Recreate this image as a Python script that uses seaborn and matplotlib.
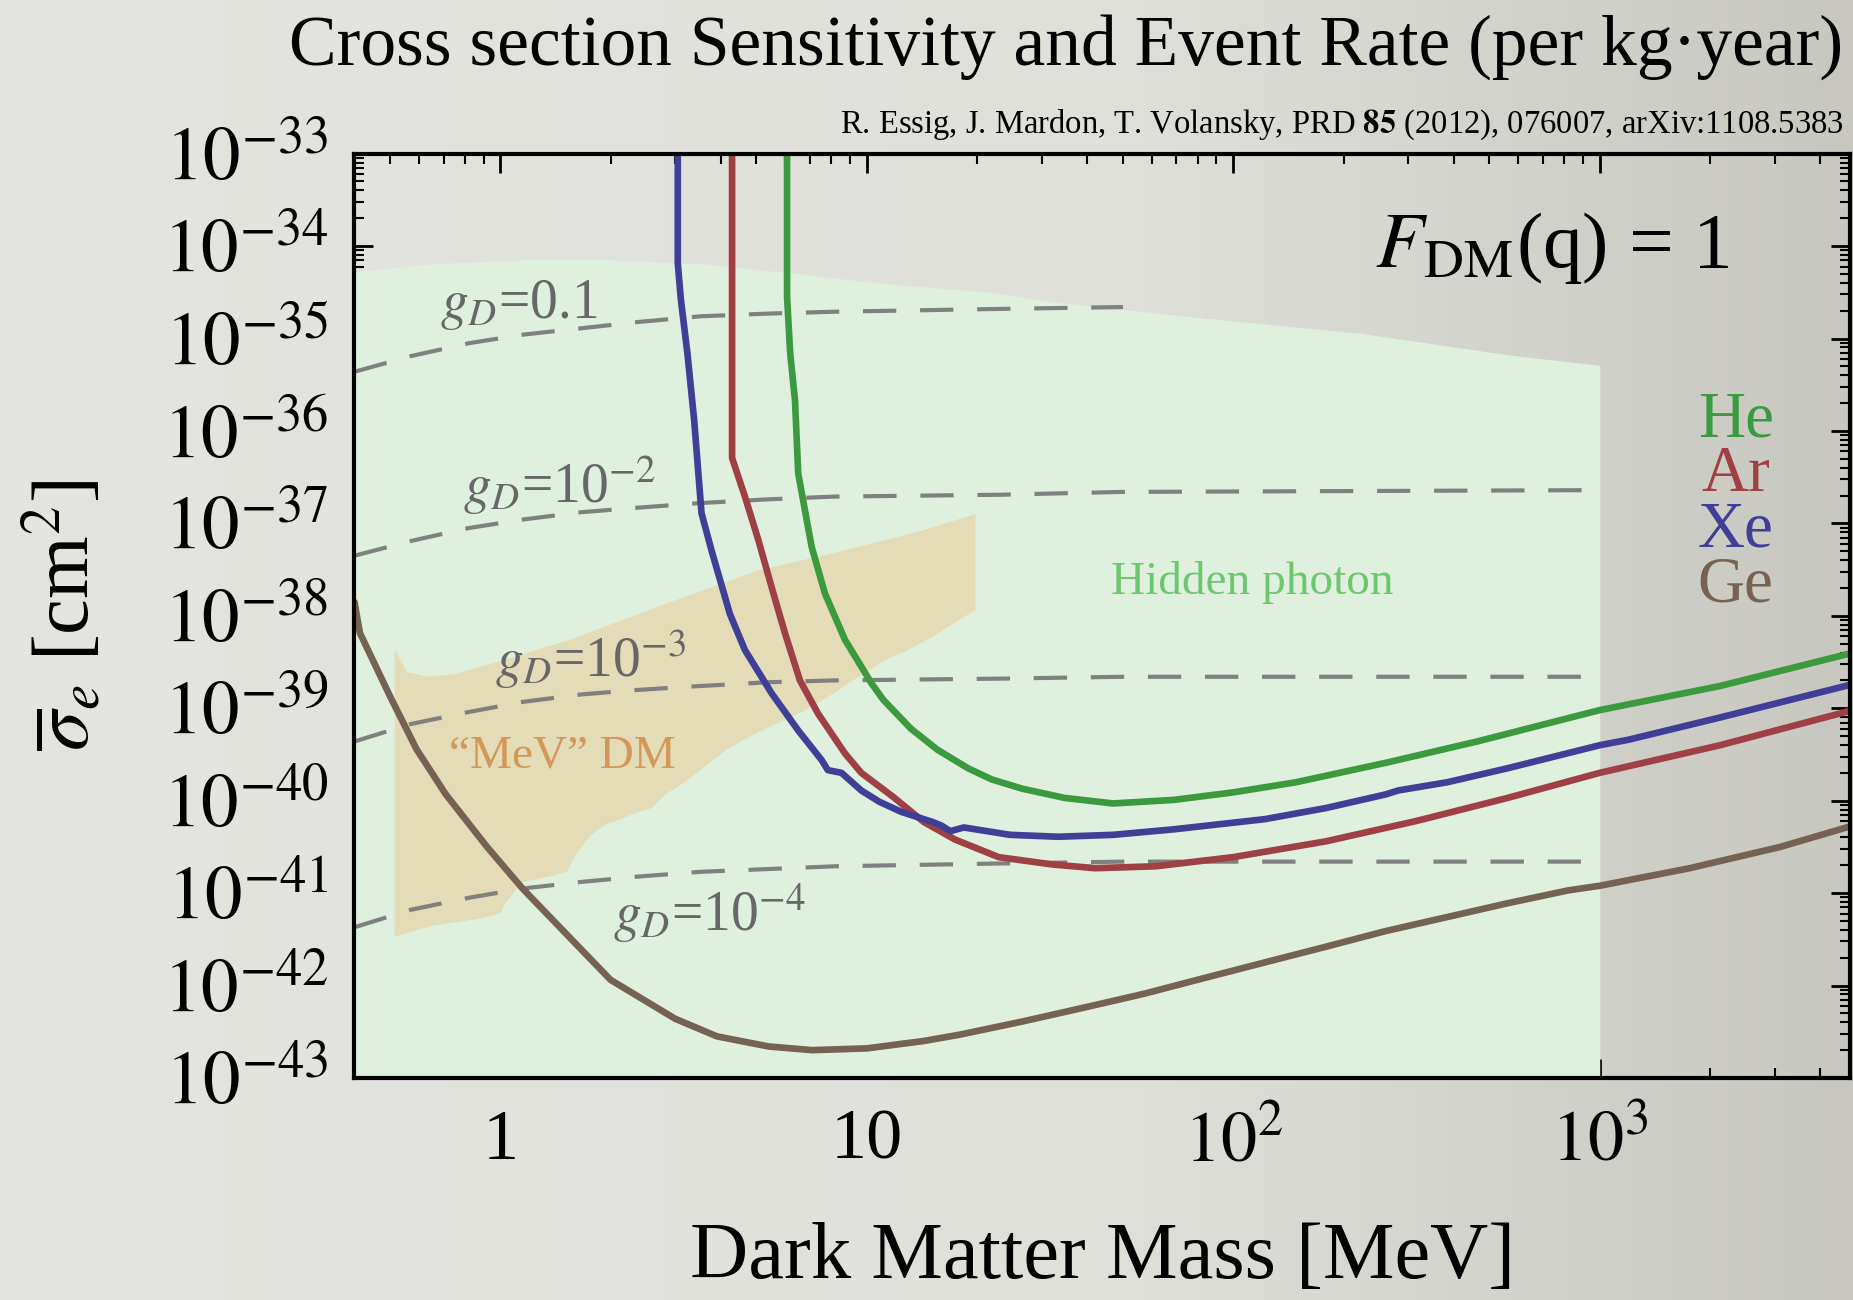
import numpy as np
import matplotlib
matplotlib.use('Agg')
import matplotlib.pyplot as plt
from matplotlib.colors import LinearSegmentedColormap
from matplotlib.ticker import FixedLocator, LogLocator, NullFormatter
import seaborn as sns

# Values (mass in MeV, cross section in cm^2)

# Ge curve
ge_mass = [0.40, 0.414, 0.50, 0.59, 0.71, 0.92, 1.15, 1.52, 2.0, 3.0, 3.9, 5.4, 7.1, 10,
           14.3, 18, 26.5, 39, 57, 83, 122, 179, 261, 383, 560, 820, 1000, 1760, 3110, 4900]
ge_sigma = [1.41e-38, 6.5e-39, 1.35e-39, 3.63e-40, 1.17e-40, 3.16e-41, 1.12e-41, 3.55e-42,
            1.15e-42, 4.37e-43, 2.82e-43, 2.19e-43, 2.0e-43, 2.09e-43, 2.51e-43, 2.95e-43,
            4.07e-43, 5.75e-43, 8.13e-43, 1.20e-42, 1.78e-42, 2.63e-42, 3.89e-42, 5.50e-42,
            7.76e-42, 1.07e-41, 1.20e-41, 1.86e-41, 3.16e-41, 5.37e-41]

# Xe curve
xe_mass = [3.05, 3.05, 3.11, 3.24, 3.38, 3.54, 3.77, 4.23, 4.65, 5.50, 6.50, 7.53, 7.83, 8.53,
           9.66, 10.8, 12.4, 15.1, 16.0, 16.9, 18.4, 24.6, 33.3, 47.0, 68.9, 122, 179, 261,
           282, 383, 560, 1000, 1200, 2130, 4900]
xe_sigma = [1e-33, 6.5e-35, 2.63e-35, 6.92e-36, 1.32e-36, 1.29e-37, 5.1e-38, 1.05e-38,
            4.27e-39, 1.45e-39, 5.75e-40, 2.75e-40, 2.14e-40, 2.0e-40, 1.29e-40, 9.77e-41,
            7.59e-41, 5.89e-41, 5.37e-41, 4.68e-41, 5.13e-41, 4.27e-41, 4.07e-41, 4.27e-41,
            4.90e-41, 6.31e-41, 8.32e-41, 1.17e-40, 1.29e-40, 1.58e-40, 2.24e-40, 3.98e-40,
            4.57e-40, 7.94e-40, 1.82e-39]

# Ar curve
ar_mass = [4.29, 4.29, 4.65, 5.06, 5.50, 5.98, 6.57, 7.37, 8.72, 9.66, 11.8, 14.3, 17.4,
           22.9, 32.1, 42.0, 61.4, 100, 179, 316, 560, 1000, 2130, 4900]
ar_sigma = [1e-33, 5.1e-37, 1.95e-37, 6.6e-38, 2.04e-38, 6.5e-39, 2.0e-39, 8.7e-40,
            3.24e-40, 2.0e-40, 1.1e-40, 5.89e-41, 3.80e-41, 2.45e-41, 2.04e-41, 1.86e-41,
            1.95e-41, 2.45e-41, 3.63e-41, 6.03e-41, 1.07e-40, 2.0e-40, 3.98e-40, 9.55e-40]

# He curve
he_mass = [6.06, 6.06, 6.18, 6.37, 6.50, 7.07, 7.69, 8.72, 10.3, 11.1, 13.2, 15.6, 18.9,
           21.9, 26.5, 34.7, 47.0, 68.9, 100, 148, 261, 463, 1000, 2130, 4900]
he_sigma = [1e-33, 2.82e-35, 6.92e-36, 2.14e-36, 3.47e-37, 5.6e-38, 1.74e-38, 5.5e-39,
            1.86e-39, 1.23e-39, 6.0e-40, 3.55e-40, 2.24e-40, 1.7e-40, 1.35e-40, 1.07e-40,
            9.33e-41, 1.02e-40, 1.23e-40, 1.58e-40, 2.57e-40, 4.37e-40, 9.55e-40, 1.74e-39,
            3.98e-39]

# hidden photon lines for fixed g_D
gd_mass_short = [0.40, 0.571, 0.822, 1.15, 1.66, 2.38, 3.52, 5.37, 8.17, 22.9, 50]
gd_mass_long = [0.40, 0.571, 0.822, 1.15, 1.66, 2.38, 3.52, 5.37, 8.17, 22.9, 50, 1000]
gd01_sigma = [4.37e-36, 6.46e-36, 8.91e-36, 1.10e-35, 1.29e-35, 1.51e-35, 1.74e-35,
              1.86e-35, 1.95e-35, 2.09e-35, 2.19e-35]
gd02_sigma = [4.47e-38, 6.46e-38, 8.91e-38, 1.10e-37, 1.32e-37, 1.48e-37, 1.66e-37,
              1.82e-37, 1.95e-37, 2.04e-37, 2.19e-37, 2.29e-37]
gd03_sigma = [4.37e-40, 6.76e-40, 9.12e-40, 1.17e-39, 1.41e-39, 1.58e-39, 1.74e-39,
              1.91e-39, 2.0e-39, 2.09e-39, 2.19e-39, 2.19e-39]
gd04_sigma = [4.27e-42, 6.61e-42, 8.91e-42, 1.12e-41, 1.32e-41, 1.51e-41, 1.70e-41,
              1.82e-41, 1.95e-41, 2.09e-41, 2.19e-41, 2.19e-41]

# hidden photon allowed region (upper edge)
hp_top_mass = [0.40, 0.66, 1.15, 2.01, 3.52, 6.18, 10.8, 22.9, 31.8, 83.4, 218, 570, 1000]
hp_top_sigma = [5.25e-35, 6.46e-35, 7.08e-35, 7.08e-35, 6.46e-35, 5.13e-35, 3.98e-35,
                3.09e-35, 2.51e-35, 1.66e-35, 1.15e-35, 6.61e-36, 5.13e-36]

# "MeV" DM region outline
mev_top_mass = [0.515, 0.556, 0.638, 0.755, 1.0, 1.52, 2.70, 5.06, 8.17, 13.8, 19.8]
mev_top_sigma = [4.37e-39, 2.45e-39, 2.19e-39, 2.34e-39, 3.24e-39, 5.37e-39, 1.26e-38,
                 3.1e-38, 4.79e-38, 8.1e-38, 1.26e-37]
mev_bottom_mass = [19.8, 17.9, 15.1, 12.8, 11.1, 9.66, 8.17, 7.11, 6.18, 5.37, 4.67, 4.17,
                   3.73, 3.24, 2.82, 2.59, 2.38, 2.13, 1.91, 1.75, 1.61, 1.52, 1.36, 1.15,
                   1.03, 1.0, 0.87, 0.658, 0.515]
mev_bottom_sigma = [1.15e-38, 9.12e-39, 5.89e-39, 4.17e-39, 3.24e-39, 2.29e-39, 1.48e-39,
                    1.05e-39, 7.94e-40, 6.17e-40, 4.68e-40, 3.63e-40, 2.57e-40, 1.66e-40,
                    1.17e-40, 8.32e-41, 7.59e-41, 6.31e-41, 5.37e-41, 4.07e-41, 2.63e-41,
                    1.70e-41, 1.51e-41, 1.32e-41, 7.76e-42, 6.03e-42, 5.25e-42, 4.47e-42,
                    3.39e-42]

x_ticks = [1, 10, 100, 1000]
x_tick_labels = ['1', '10', r'$10^2$', r'$10^3$']
y_ticks = [1e-33, 1e-34, 1e-35, 1e-36, 1e-37, 1e-38, 1e-39, 1e-40, 1e-41, 1e-42, 1e-43]
y_tick_labels = [r'$10^{-33}$', r'$10^{-34}$', r'$10^{-35}$', r'$10^{-36}$', r'$10^{-37}$',
                 r'$10^{-38}$', r'$10^{-39}$', r'$10^{-40}$', r'$10^{-41}$', r'$10^{-42}$',
                 r'$10^{-43}$']

# ---- style ----
sns.set_theme(style='ticks')
plt.rcParams['font.family'] = ['Liberation Serif', 'DejaVu Serif']
plt.rcParams['mathtext.fontset'] = 'stix'

green = '#3c9a3e'
red = '#9f4044'
blue = '#3f3f98'
brown = '#766252'

fig = plt.figure(figsize=(18.53, 13.0), dpi=100)

# slide background, darker towards the right
bg = fig.add_axes([0, 0, 1, 1], zorder=-10)
bg_cmap = LinearSegmentedColormap.from_list(
    'bg', [(0, '#e4e4e0'), (0.6, '#e0e0db'), (1.0, '#c8c8c1')])
bg.imshow(np.linspace(0, 1, 256).reshape(1, -1), cmap=bg_cmap, aspect='auto',
          extent=[0, 1, 0, 1])
bg.axis('off')

ax = fig.add_axes([0.1913, 0.1708, 0.8071, 0.7110])
ax.patch.set_alpha(0)
ax.set_xscale('log')
ax.set_yscale('log')
ax.set_xlim(0.4, 4820)
ax.set_ylim(1e-43, 1e-33)

# shaded regions
ax.fill_between(hp_top_mass, 1e-43, hp_top_sigma, color='#e0f0df', lw=0, zorder=1)
ax.fill(mev_top_mass + mev_bottom_mass, mev_top_sigma + mev_bottom_sigma,
        color='#e3dcb6', lw=0, zorder=2)

# g_D dashed lines
for m, s in [(gd_mass_short, gd01_sigma), (gd_mass_long, gd02_sigma),
             (gd_mass_long, gd03_sigma), (gd_mass_long, gd04_sigma)]:
    sns.lineplot(x=m, y=s, sort=False, estimator=None, color='#808080', lw=3,
                 ax=ax, zorder=3)
    ax.lines[-1].set_dashes([8, 5.7])

# detector curves
for m, s, c in [(ge_mass, ge_sigma, brown), (ar_mass, ar_sigma, red),
                (xe_mass, xe_sigma, blue), (he_mass, he_sigma, green)]:
    sns.lineplot(x=m, y=s, sort=False, estimator=None, color=c, lw=4.8, ax=ax, zorder=5)

# annotations
gd_col = '#676767'
ax.text(1.12, 2.3e-35, r'$g_D$=0.1', fontsize=40, color=gd_col, ha='center', va='center', zorder=6)
ax.text(1.45, 2.6e-37, r'$g_D$=10$^{-2}$', fontsize=40, color=gd_col, ha='center', va='center', zorder=6)
ax.text(1.76, 3.4e-39, r'$g_D$=10$^{-3}$', fontsize=40, color=gd_col, ha='center', va='center', zorder=6)
ax.text(3.72, 6.0e-42, r'$g_D$=10$^{-4}$', fontsize=40, color=gd_col, ha='center', va='center', zorder=6)
ax.text(113, 2.3e-38, 'Hidden photon', fontsize=34, color='#6cc86c', ha='center', va='center', zorder=6)
ax.text(1.48, 3.0e-40, '\u201cMeV\u201d DM', fontsize=34, color='#d4975a', ha='center', va='center', zorder=6)
ax.text(743, 9.5e-35, r'$F_{\rm DM}$(q) = 1', fontsize=57, color='black', ha='center', va='center', zorder=6)
for lab, y, c in [('He', 1.3e-36, green), ('Ar', 3.3e-37, red),
                  ('Xe', 8.3e-38, blue), ('Ge', 2.1e-38, brown)]:
    ax.text(2350, y, lab, fontsize=47, color=c, ha='center', va='center', zorder=6)

# axes, ticks
ax.xaxis.set_major_locator(FixedLocator(x_ticks))
ax.set_xticklabels(x_tick_labels)
ax.xaxis.set_minor_locator(LogLocator(base=10, subs=np.arange(2, 10), numticks=50))
ax.xaxis.set_minor_formatter(NullFormatter())
ax.yaxis.set_major_locator(FixedLocator(y_ticks))
ax.set_yticklabels(y_tick_labels)
ax.yaxis.set_minor_locator(LogLocator(base=10, subs=np.arange(2, 10), numticks=100))
ax.yaxis.set_minor_formatter(NullFormatter())

ax.tick_params(which='major', direction='in', length=14, width=2, top=True, right=True,
               color='black')
ax.tick_params(which='minor', direction='in', length=7, width=1.5, top=True, right=True,
               color='black')
ax.tick_params(axis='x', which='major', labelsize=52, pad=22, labelcolor='black')
ax.tick_params(axis='y', which='major', labelsize=54, pad=19, labelcolor='black')
for sp in ax.spines.values():
    sp.set_linewidth(3)
    sp.set_color('black')
    sp.set_zorder(7)

ax.set_xlabel('Dark Matter Mass [MeV]', fontsize=58, color='black')
ax.xaxis.set_label_coords(0.5, -0.156)
ax.set_ylabel(r'$\overline{\sigma}_e$ [cm$^2$]', fontsize=58, color='black')
ax.yaxis.set_label_coords(-0.166, 0.5)

fig.text(0.156, 0.964, 'Cross section Sensitivity and Event Rate (per kg\u00b7year)',
         fontsize=51.5, ha='left', va='center', color='black')
fig.text(0.995, 0.898,
         r'R. Essig, J. Mardon, T. Volansky, PRD $\mathbf{85}$ (2012), 076007, arXiv:1108.5383',
         fontsize=23.5, ha='right', va='baseline', color='black')

fig.savefig('out.png', dpi=100)
